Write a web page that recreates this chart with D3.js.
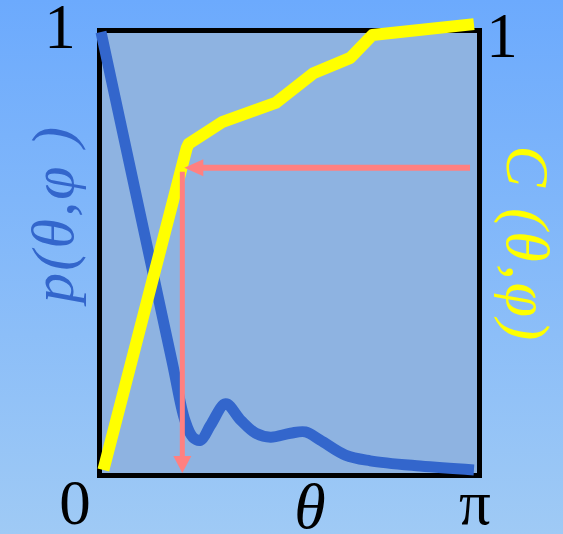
<!DOCTYPE html>
<html>
<head>
<meta charset="utf-8">
<script src="https://cdn.jsdelivr.net/npm/d3@7"></script>
<style>
  html, body { margin: 0; padding: 0; overflow: hidden; }
</style>
</head>
<body>
<div id="chart"></div>
<script>
////////////////////////////////////////////////////
// data : theta in [0, pi], values in [0, 1]
////////////////////////////////////////////////////
var probTheta = [0.00, 0.596, 0.706, 0.773, 0.840, 0.924, 1.050, 1.176, 1.302, 1.428, 1.596, 1.722, 1.848, 2.058, 2.268, 2.688, 3.141];
var probValue = [1.00, 0.251, 0.114, 0.075, 0.068, 0.103, 0.151, 0.114, 0.084, 0.075, 0.084, 0.087, 0.068, 0.034, 0.021, 0.009, 0.000];

var cumTheta = [0.02, 0.722, 0.739, 1.025, 1.470, 1.789, 2.100, 2.285, 3.141];
var cumValue = [0.00, 0.735, 0.745, 0.795, 0.838, 0.906, 0.941, 0.993, 1.018];

var arrowC = 0.69;
var arrowTheta = 0.685;
var arrowStart = 3.108;

var xTicks = [{v: 0, t: "0"}, {v: Math.PI, t: "\u03C0"}];
var yTicks = [{v: 1, t: "1"}];
////////////////////////////////////////////////////

var W = 563, H = 534;
var svg = d3.select("#chart").append("svg")
	.attr("width", W)
	.attr("height", H);

var defs = svg.append("defs");
var grad = defs.append("linearGradient")
	.attr("id", "bg")
	.attr("x1", 0).attr("y1", 0).attr("x2", 0).attr("y2", 1);
grad.append("stop").attr("offset", "0%").attr("stop-color", "#6caafd");
grad.append("stop").attr("offset", "100%").attr("stop-color", "#9fcaf5");

svg.append("rect")
	.attr("width", W).attr("height", H)
	.attr("fill", "url(#bg)");

var x = d3.scaleLinear().domain([0, Math.PI]).range([101, 474]);
var y = d3.scaleLinear().domain([0, 1]).range([470, 32]);

// frame
svg.append("rect")
	.attr("x", 99.5).attr("y", 30.5)
	.attr("width", 479.5 - 99.5).attr("height", 475.5 - 30.5)
	.attr("fill", "#8eb3e1")
	.attr("stroke", "#000")
	.attr("stroke-width", 5);

// probability curve
var probData = probTheta.map(function(t, i) { return [t, probValue[i]]; });
svg.append("path")
	.datum(probData)
	.attr("fill", "none")
	.attr("stroke", "#3366cc")
	.attr("stroke-width", 11)
	.attr("d", d3.line()
		.x(function(d) { return x(d[0]); })
		.y(function(d) { return y(d[1]); })
		.curve(d3.curveCatmullRom.alpha(0.5)));

// cumulative curve
var cumData = cumTheta.map(function(t, i) { return [t, cumValue[i]]; });
svg.append("path")
	.datum(cumData)
	.attr("fill", "none")
	.attr("stroke", "#ffff00")
	.attr("stroke-width", 12)
	.attr("stroke-linejoin", "round")
	.attr("d", d3.line()
		.x(function(d) { return x(d[0]); })
		.y(function(d) { return y(d[1]); }));

// arrows
var pink = "#ff8080";
var ay = y(arrowC), ax = x(arrowTheta);
svg.append("line")
	.attr("x1", x(arrowStart)).attr("y1", ay)
	.attr("x2", ax + 18).attr("y2", ay)
	.attr("stroke", pink).attr("stroke-width", 6);
svg.append("path")
	.attr("fill", pink)
	.attr("d", "M" + (ax + 2) + "," + ay + "L" + (ax + 21) + "," + (ay - 8.5) + "L" + (ax + 21) + "," + (ay + 8.5) + "Z");
svg.append("line")
	.attr("x1", ax).attr("y1", ay + 4)
	.attr("x2", ax).attr("y2", y(0) - 14)
	.attr("stroke", pink).attr("stroke-width", 5);
svg.append("path")
	.attr("fill", pink)
	.attr("d", "M" + ax + "," + (y(0) + 3) + "L" + (ax - 9) + "," + (y(0) - 14) + "L" + (ax + 9) + "," + (y(0) - 14) + "Z");

// tick labels
var serif = "'Liberation Serif', 'DejaVu Serif', serif";
svg.selectAll(".xt")
	.data(xTicks)
	.enter().append("text")
		.attr("class", "xt")
		.attr("x", function(d, i) { return i == 0 ? 75 : 475; })
		.attr("y", 524)
		.attr("text-anchor", "middle")
		.attr("font-family", serif)
		.attr("font-size", 63)
		.text(function(d) { return d.t; });

svg.selectAll(".ytl")
	.data(yTicks)
	.enter().append("text")
		.attr("x", 60)
		.attr("y", y(1) + 16)
		.attr("text-anchor", "middle")
		.attr("font-family", serif)
		.attr("font-size", 63)
		.text(function(d) { return d.t; });
svg.selectAll(".ytr")
	.data(yTicks)
	.enter().append("text")
		.attr("x", 502)
		.attr("y", y(1) + 25)
		.attr("text-anchor", "middle")
		.attr("font-family", serif)
		.attr("font-size", 63)
		.text(function(d) { return d.t; });

svg.append("text")
	.attr("x", 310).attr("y", 528)
	.attr("text-anchor", "middle")
	.attr("font-family", serif)
	.attr("font-style", "italic")
	.attr("font-size", 64)
	.text("\u03B8");

// axis titles
svg.append("text")
	.attr("transform", "translate(73,215) rotate(-90)")
	.attr("text-anchor", "middle")
	.attr("font-family", serif)
	.attr("font-style", "italic")
	.attr("font-size", 60)
	.attr("fill", "#3366cc")
	.attr("textLength", 176)
	.attr("lengthAdjust", "spacing")
	.text("p(\u03B8,\u03C6 )");

svg.append("text")
	.attr("transform", "translate(507,243) rotate(90)")
	.attr("text-anchor", "middle")
	.attr("font-family", serif)
	.attr("font-style", "italic")
	.attr("font-size", 62)
	.attr("fill", "#ffff00")
	.attr("textLength", 195)
	.attr("lengthAdjust", "spacing")
	.text("C (\u03B8,\u03C6)");
</script>
</body>
</html>
